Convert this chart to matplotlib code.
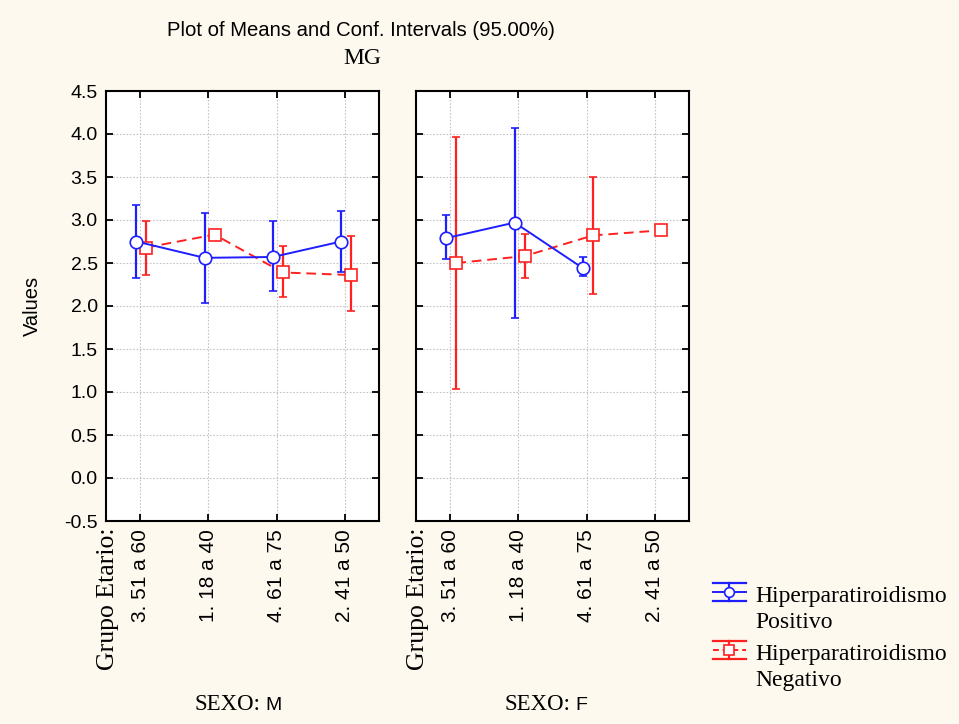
import numpy as np
import matplotlib
matplotlib.use("Agg")
import matplotlib.pyplot as plt
from matplotlib.lines import Line2D

# ---------------- data ----------------
groups = ["3. 51 a 60", "1. 18 a 40", "4. 61 a 75", "2. 41 a 50"]
nan = np.nan
# SEXO: M
m_pos_mean = [2.75, 2.56, 2.57, 2.75]
m_pos_low = [2.33, 2.04, 2.18, 2.39]
m_pos_high = [3.18, 3.08, 2.99, 3.11]
m_neg_mean = [2.68, 2.83, 2.39, 2.36]
m_neg_low = [2.36, nan, 2.11, 1.94]
m_neg_high = [2.99, nan, 2.70, 2.81]
# SEXO: F
f_pos_mean = [2.79, 2.97, 2.44, nan]
f_pos_low = [2.55, 1.86, 2.35, nan]
f_pos_high = [3.06, 4.07, 2.57, nan]
f_neg_mean = [2.50, 2.58, 2.82, 2.88]
f_neg_low = [1.04, 2.32, 2.14, nan]
f_neg_high = [3.96, 2.84, 3.50, nan]

yticks = [-0.5, 0.0, 0.5, 1.0, 1.5, 2.0, 2.5, 3.0, 3.5, 4.0, 4.5]
series_names = [("Hiperparatiroidismo", "Positivo"), ("Hiperparatiroidismo", "Negativo")]
panel_names = ["M", "F"]

# ---------------- style ----------------
W, H = 959, 724
BG = "#FDF9EE"
BLUE = "#1E1EFF"
RED = "#FF2020"
SANS = ["Liberation Sans", "DejaVu Sans"]
SERIF = ["Liberation Serif", "DejaVu Serif"]

fig = plt.figure(figsize=(W / 100, H / 100), dpi=100, facecolor=BG)


def fx(x):
    return x / W


def fy(y):
    return 1 - y / H


panels = [
    (106, 379, m_pos_mean, m_pos_low, m_pos_high, m_neg_mean, m_neg_low, m_neg_high),
    (416, 689, f_pos_mean, f_pos_low, f_pos_high, f_neg_mean, f_neg_low, f_neg_high),
]
top_px, bot_px = 91, 521

x = np.arange(1, len(groups) + 1)
for i, (l, r, pm, pl, ph, nm, nl, nh) in enumerate(panels):
    ax = fig.add_axes([fx(l), fy(bot_px), fx(r) - fx(l), fy(top_px) - fy(bot_px)])
    ax.set_facecolor("white")
    ax.set_xlim(0.5, 4.5)
    ax.set_ylim(-0.5, 4.5)
    ax.set_yticks(yticks)
    ax.set_xticks(x)
    ax.grid(True, color="#C4C4C4", linestyle=(0, (1.5, 1.5)), linewidth=0.8)
    ax.set_axisbelow(True)
    for s in ax.spines.values():
        s.set_linewidth(1.5)
    ax.tick_params(direction="in", length=5, width=1.3, top=True, right=True,
                   labelsize=14, pad=6)
    ax.set_xticklabels(groups, rotation=90, fontfamily=SANS, fontsize=15)
    if i == 0:
        ax.set_yticklabels([f"{v:.1f}" for v in yticks], fontfamily=SANS, fontsize=14)
        ax.set_ylabel("Values", fontfamily=SANS, fontsize=14.5, labelpad=16)
    else:
        ax.set_yticklabels([])

    pm = np.array(pm); pl = np.array(pl); ph = np.array(ph)
    nm = np.array(nm); nl = np.array(nl); nh = np.array(nh)
    xb = x - 0.055
    xr = x + 0.09
    ax.errorbar(xb, pm, yerr=[pm - pl, ph - pm], color=BLUE, lw=1.4, capsize=2.7,
                capthick=1.6, elinewidth=1.6, marker="o", ms=9, mfc="white",
                mec=BLUE, mew=1.2, zorder=4)
    ax.errorbar(xr, nm, yerr=[nm - nl, nh - nm], color=RED, lw=1.4, ls=(0, (5, 3)),
                capsize=2.7, capthick=1.6, elinewidth=1.6, marker="s", ms=9,
                mfc="white", mec=RED, mew=1.2, zorder=3)

    # 'Grupo Etario:' label beside tick labels
    fig.text(fx(l + 2), fy(528), "Grupo Etario:", rotation=90, ha="center",
             va="top", fontfamily=SERIF, fontsize=18.5)
    # SEXO label
    sx = l + 154
    fig.text(fx(sx), fy(710), "SEXO:", ha="right", va="baseline",
             fontfamily=SERIF, fontsize=16.5)
    fig.text(fx(sx + 5), fy(710), panel_names[i], ha="left", va="baseline",
             fontfamily=SANS, fontsize=14)

# titles
fig.text(fx(361), fy(30), "Plot of Means and Conf. Intervals (95.00%)",
         ha="center", va="center", fontfamily=SANS, fontsize=14.6)
fig.text(fx(362), fy(59), "MG", ha="center", va="center", fontfamily=SERIF,
         fontsize=17)

# legend (drawn manually in figure coordinates)
leg = [(592, BLUE, "-", "o"), (650, RED, (0, (3, 2)), "s")]
for (yc, col, ls, mk), (l1, l2) in zip(leg, series_names):
    x0, x1, xc = 713, 746, 729
    fig.add_artist(Line2D([fx(x0), fx(x1)], [fy(yc), fy(yc)], color=col, lw=1.4,
                          ls=ls, transform=fig.transFigure))
    for yy in (yc - 9, yc + 9):
        fig.add_artist(Line2D([fx(x0), fx(x1)], [fy(yy), fy(yy)], color=col,
                              lw=1.6, transform=fig.transFigure))
    fig.add_artist(Line2D([fx(xc), fx(xc)], [fy(yc - 9), fy(yc + 9)], color=col,
                          lw=1.6, transform=fig.transFigure))
    fig.add_artist(Line2D([fx(xc)], [fy(yc)], color=col, marker=mk, ms=7,
                          mfc="white", mec=col, mew=1.2, transform=fig.transFigure))
    fig.text(fx(755), fy(yc + 10), l1, ha="left", va="baseline", fontfamily=SERIF,
             fontsize=17)
    fig.text(fx(755), fy(yc + 36), l2, ha="left", va="baseline", fontfamily=SERIF,
             fontsize=17)

fig.savefig("out.png", dpi=100, facecolor=BG)
